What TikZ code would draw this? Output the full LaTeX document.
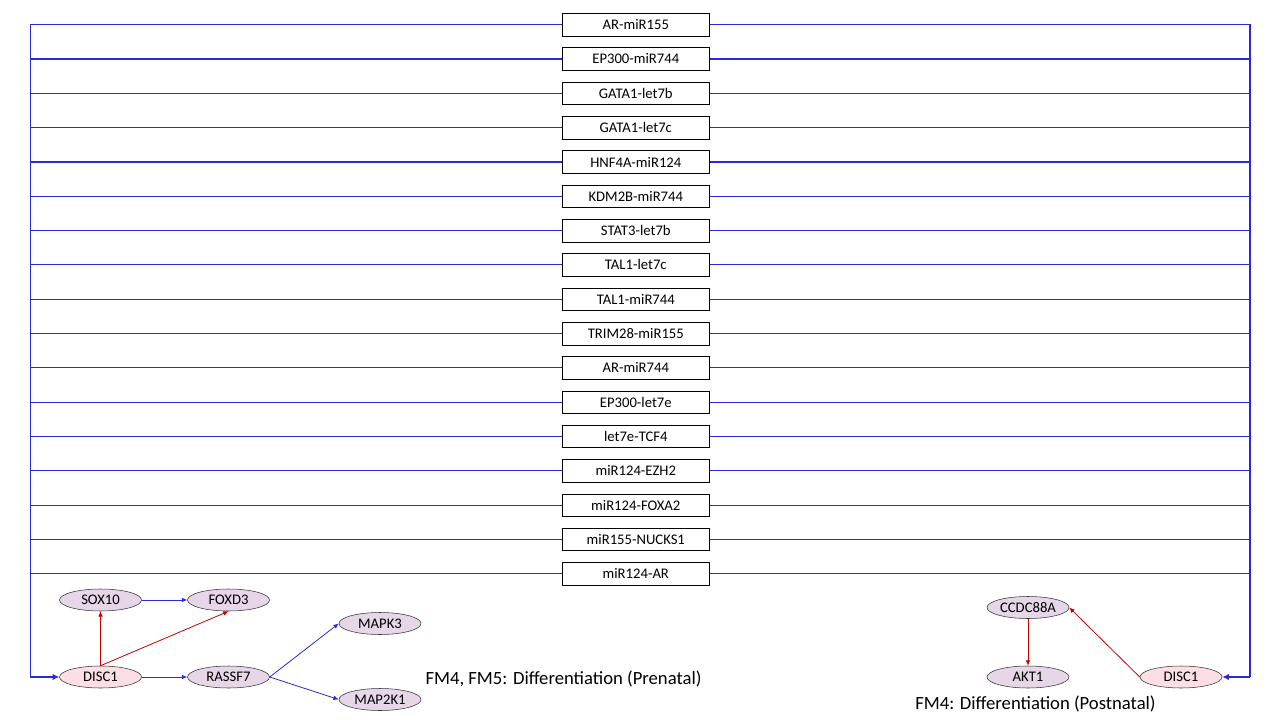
\documentclass[tikz,border=0pt]{standalone}
\usepackage{fontspec}
\setmainfont{Carlito}
\usetikzlibrary{shapes.geometric,arrows.meta}
\definecolor{wireblue}{RGB}{40,40,225}
\definecolor{linkred}{RGB}{200,0,0}
\definecolor{discfill}{RGB}{252,222,228}
\definecolor{genefill}{RGB}{230,214,232}
\begin{document}
\begin{tikzpicture}[x=0.75pt,y=-0.75pt]
	\useasboundingbox (0,0) rectangle (1280,720);
	\tikzstyle{pair}=[draw,inner sep=0pt,minimum width=110.25pt,minimum height=17pt,font=\fontsize{11}{13}\selectfont]
	\tikzstyle{gene}=[draw=black!80,ellipse,fill=genefill,inner sep=0pt,minimum width=61.5pt,minimum height=16.5pt,font=\fontsize{11}{13}\selectfont]
	\tikzstyle{disc}=[gene,fill=discfill]
	\tikzstyle{wire}=[draw=wireblue,line width=0.8pt]
	\tikzstyle{blu}=[-{Latex[length=4pt,width=3.5pt]},draw=wireblue,line width=0.6pt]
	\tikzstyle{rd}=[-{Latex[length=4pt,width=3.5pt]},draw=linkred,line width=0.6pt]
	\tikzstyle{feed}=[-{Latex[length=5pt,width=5pt]},draw=wireblue,line width=2pt]

	\node[pair] (b1) at (635.8,24.7) {AR-miR155};
	\node[pair] (b2) at (635.8,59.0) {EP300-miR744};
	\node[pair] (b3) at (635.8,93.3) {GATA1-let7b};
	\node[pair] (b4) at (635.8,127.6) {GATA1-let7c};
	\node[pair] (b5) at (635.8,162.0) {HNF4A-miR124};
	\node[pair] (b6) at (635.8,196.3) {KDM2B-miR744};
	\node[pair] (b7) at (635.8,230.6) {STAT3-let7b};
	\node[pair] (b8) at (635.8,264.9) {TAL1-let7c};
	\node[pair] (b9) at (635.8,299.2) {TAL1-miR744};
	\node[pair] (b10) at (635.8,333.5) {TRIM28-miR155};
	\node[pair] (b11) at (635.8,367.8) {AR-miR744};
	\node[pair] (b12) at (635.8,402.1) {EP300-let7e};
	\node[pair] (b13) at (635.8,436.4) {let7e-TCF4};
	\node[pair] (b14) at (635.8,470.8) {miR124-EZH2};
	\node[pair] (b15) at (635.8,505.1) {miR124-FOXA2};
	\node[pair] (b16) at (635.8,539.4) {miR155-NUCKS1};
	\node[pair] (b17) at (635.8,573.7) {miR124-AR};

	% prenatal module
	\node[gene] (sox) at (100.5,600) {SOX10};
	\node[gene] (foxd) at (228.5,600) {FOXD3};
	\node[disc] (dl) at (100.5,677) {DISC1};
	\node[gene] (rassf) at (228.5,677) {RASSF7};
	\node[gene] (mapk) at (380,623.5) {MAPK3};
	\node[gene] (map2k) at (380,699.5) {MAP2K1};
	\node (pre) at (563.5,679) {\fontsize{14}{16}\selectfont FM4, FM5: Differentiation (Prenatal)};

	% postnatal module
	\node[gene] (ccdc) at (1028,607.5) {CCDC88A};
	\node[gene] (akt) at (1028,677) {AKT1};
	\node[disc] (dr) at (1181,677) {DISC1};
	\node (post) at (1035.5,704) {\fontsize{14}{16}\selectfont FM4: Differentiation (Postnatal)};

	\coordinate (lc) at (30.3,677);
	\coordinate (rc) at (1250,677);

	\draw[wire] (lc) |- (b1) -| (rc);
	\draw[wire] (lc) |- (b2) -| (rc);
	\draw[wire] (lc) |- (b3) -| (rc);
	\draw[wire] (lc) |- (b4) -| (rc);
	\draw[wire] (lc) |- (b5) -| (rc);
	\draw[wire] (lc) |- (b6) -| (rc);
	\draw[wire] (lc) |- (b7) -| (rc);
	\draw[wire] (lc) |- (b8) -| (rc);
	\draw[wire] (lc) |- (b9) -| (rc);
	\draw[wire] (lc) |- (b10) -| (rc);
	\draw[wire] (lc) |- (b11) -| (rc);
	\draw[wire] (lc) |- (b12) -| (rc);
	\draw[wire] (lc) |- (b13) -| (rc);
	\draw[wire] (lc) |- (b14) -| (rc);
	\draw[wire] (lc) |- (b15) -| (rc);
	\draw[wire] (lc) |- (b16) -| (rc);
	\draw[wire] (lc) |- (b17) -| (rc);
	\draw[wire,line width=1.6pt] (rc) -- (rc |- b2);

	\draw[feed] (lc) -- (dl);
	\draw[feed] (rc) -- (dr);

	\draw[rd] (dl) -- (sox);
	\draw[rd] (dl.north) -- (foxd.south);
	\draw[blu] (sox) -- (foxd);
	\draw[blu] (dl) -- (rassf);
	\draw[blu] (rassf.east) -- (mapk.west);
	\draw[blu] (rassf.east) -- (map2k.west);

	\draw[rd] (ccdc) -- (akt);
	\draw[rd] (dr.west) -- (ccdc.east);
\end{tikzpicture}
\end{document}
